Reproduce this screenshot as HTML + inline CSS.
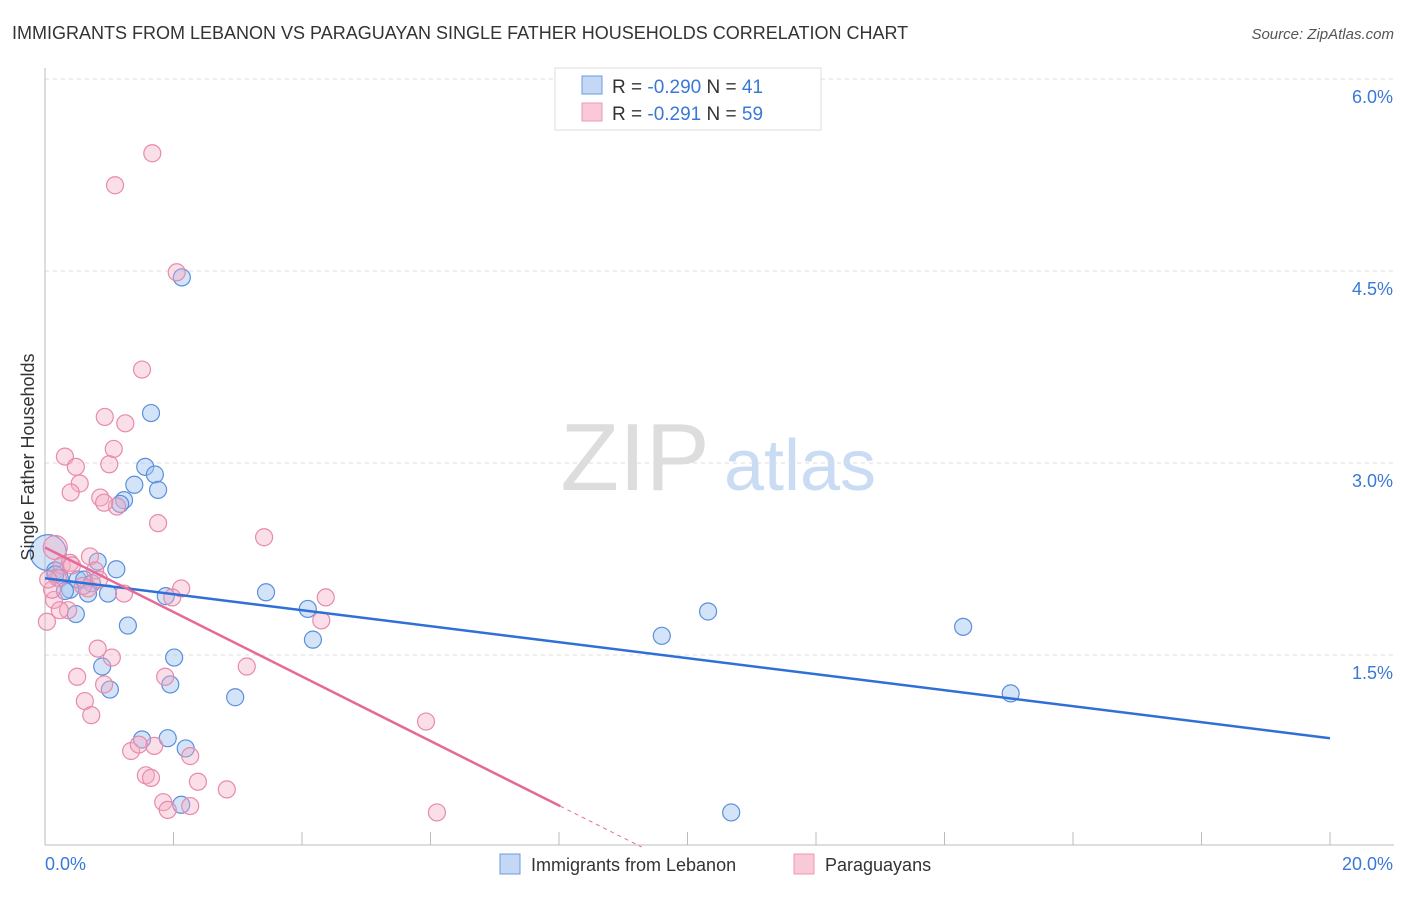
<!DOCTYPE html>
<html><head><meta charset="utf-8"><style>
body{margin:0;background:#fff;font-family:"Liberation Sans",sans-serif}
svg text{font-family:"Liberation Sans",sans-serif}
</style></head><body>
<svg id="chart" width="1406" height="892" viewBox="0 0 1406 892">
<text x="12" y="39" font-size="18" fill="#333">IMMIGRANTS FROM LEBANON VS PARAGUAYAN SINGLE FATHER HOUSEHOLDS CORRELATION CHART</text>
<text x="1394" y="39" font-size="15" fill="#555" text-anchor="end" font-style="italic">Source: ZipAtlas.com</text>
<g>
<text x="635" y="490" font-size="96" fill="#ddd" text-anchor="middle" font-family="Liberation Serif">ZIP</text>
<text x="800" y="490" font-size="72" fill="#c9dcf3" text-anchor="middle">atlas</text>
</g>
<g id="grid"></g>
<g id="axes"></g>
<g id="marks"></g>
<text transform="translate(34,457) rotate(-90)" font-size="18" fill="#333" text-anchor="middle">Single Father Households</text>
<g>
<rect x="555" y="68" width="266" height="62" fill="#fff" stroke="#ddd"/>
<rect x="582" y="76" width="20" height="18" fill="#c4d8f6" stroke="#6a9be0"/>
<text x="612" y="93" font-size="19" fill="#333">R = <tspan fill="#3a78d8">-0.290</tspan>   N =  <tspan fill="#3a78d8">41</tspan></text>
<rect x="582" y="103" width="20" height="18" fill="#f9c9d8" stroke="#ee97b3"/>
<text x="612" y="120" font-size="19" fill="#333">R =  <tspan fill="#3a78d8">-0.291</tspan>   N = <tspan fill="#3a78d8">59</tspan></text>
</g>
<g>
<rect x="500" y="854" width="20" height="20" fill="#c4d8f6" stroke="#6a9be0"/>
<text x="531" y="871" font-size="18" fill="#333">Immigrants from Lebanon</text>
<rect x="794" y="854" width="20" height="20" fill="#f9c9d8" stroke="#ee97b3"/>
<text x="825" y="871" font-size="18" fill="#333">Paraguayans</text>
</g>
</svg>
<script>
const xTicks=[0,2,4,6,8,10,12,14,16,18,20];
const yTicks=[1.5,3.0,4.5,6.0];
const yTickLabels=["1.5%","3.0%","4.5%","6.0%"];
const xLabels=["0.0%","20.0%"];
const blueX=[2.13,1.65,1.56,1.71,1.76,1.39,1.23,1.17,0.05,0.16,0.23,0.39,0.51,0.61,0.82,1.11,0.73,0.67,0.98,0.48,1.29,1.88,3.44,4.09,4.17,2.01,0.89,1.01,1.95,2.96,1.91,1.51,2.19,2.12,9.60,10.32,14.29,15.03,10.68,0.31,0.16];
const blueY=[4.45,3.39,2.97,2.91,2.79,2.83,2.71,2.68,2.30,2.16,2.10,2.01,2.09,2.09,2.23,2.17,2.06,1.98,1.98,1.82,1.73,1.96,1.99,1.86,1.62,1.48,1.41,1.23,1.27,1.17,0.85,0.84,0.77,0.33,1.65,1.84,1.72,1.20,0.27,2.00,2.13];
const pinkX=[1.67,1.09,2.05,1.51,0.93,1.25,1.07,0.31,0.48,1.00,0.54,0.40,0.86,1.12,0.92,1.76,3.41,0.16,0.70,0.26,0.39,0.78,0.20,0.84,0.67,1.23,2.12,1.98,4.37,0.59,0.14,0.36,0.03,4.30,0.82,1.04,3.14,0.50,1.87,0.92,0.62,0.72,5.93,1.70,1.34,1.46,2.26,1.57,1.65,2.38,2.83,1.84,2.26,1.91,6.10,0.11,0.05,0.42,0.23];
const pinkY=[5.42,5.17,4.49,3.73,3.36,3.31,3.11,3.05,2.97,2.99,2.84,2.77,2.73,2.66,2.69,2.53,2.42,2.34,2.27,2.20,2.22,2.16,2.10,2.09,2.02,1.98,2.02,1.95,1.95,2.04,1.93,1.85,1.76,1.77,1.55,1.48,1.41,1.33,1.33,1.27,1.14,1.03,0.98,0.79,0.75,0.80,0.71,0.56,0.54,0.51,0.45,0.35,0.32,0.29,0.27,2.01,2.09,2.20,1.85];
const blueTrend=[2.10,0.85];
const pinkTrend=[2.34,-0.252];
const X=v=>45+v/20*1285, Y=v=>847-v*128;
const NS="http://www.w3.org/2000/svg";
function mk(tag,attrs,parent){const e=document.createElementNS(NS,tag);for(const k in attrs)e.setAttribute(k,attrs[k]);document.getElementById(parent).appendChild(e);return e;}
yTicks.forEach((t,i)=>{
 const g=mk('line',{x1:45,x2:1394,y1:Y(t),y2:Y(t),stroke:'#ddd','stroke-dasharray':'4,4'},'grid');
 
 
 const l=mk('text',{x:1393,y:Y(t)+24,'font-size':18,fill:'#3a78d8','text-anchor':'end'},'grid');
 l.textContent=yTickLabels[i];
 
 
});
let a=mk('line',{x1:45,x2:45,y1:68,y2:845,stroke:'#bbb'},'axes');


a=mk('line',{x1:45,x2:1394,y1:845,y2:845,stroke:'#bbb'},'axes');


xTicks.forEach(t=>{const e=mk('line',{x1:X(t),x2:X(t),y1:832,y2:845,stroke:'#bbb'},'axes');
 
 });
[[0,45,'start'],[20,1393,'end']].forEach((p,i)=>{const e=mk('text',{x:p[1],y:870,'font-size':18,fill:'#3a78d8','text-anchor':p[2]},'axes');e.textContent=xLabels[i];
 
 });
function dots(xs,ys,fill,stroke,name,bigIdx,bigR){xs.forEach((x,i)=>{const r=i===bigIdx?bigR:8.5;
 const c=mk('circle',{cx:X(x),cy:Y(ys[i]),r:r,fill:fill,stroke:stroke,'stroke-width':1.2},'marks');
 
 });}
dots(blueX,blueY,'rgba(160,195,240,0.45)','#5b8fdc','lebanon-point',8,18);
dots(pinkX,pinkY,'rgba(245,170,195,0.38)','#e88aab','paraguayan-point',17,12);
let t=mk('line',{x1:X(0),y1:Y(blueTrend[0]),x2:X(20),y2:Y(blueTrend[1]),stroke:'#2f6fd6','stroke-width':2.5},'marks');


const pe=8.02, pz=-pinkTrend[0]/pinkTrend[1];
t=mk('line',{x1:X(0),y1:Y(pinkTrend[0]),x2:X(pe),y2:Y(pinkTrend[0]+pinkTrend[1]*pe),stroke:'#e56a98','stroke-width':2.5},'marks');


t=mk('line',{x1:X(pe),y1:Y(pinkTrend[0]+pinkTrend[1]*pe),x2:X(pz),y2:Y(0),stroke:'#e56a98','stroke-width':1,'stroke-dasharray':'4,4'},'marks');


</script>
</body></html>
